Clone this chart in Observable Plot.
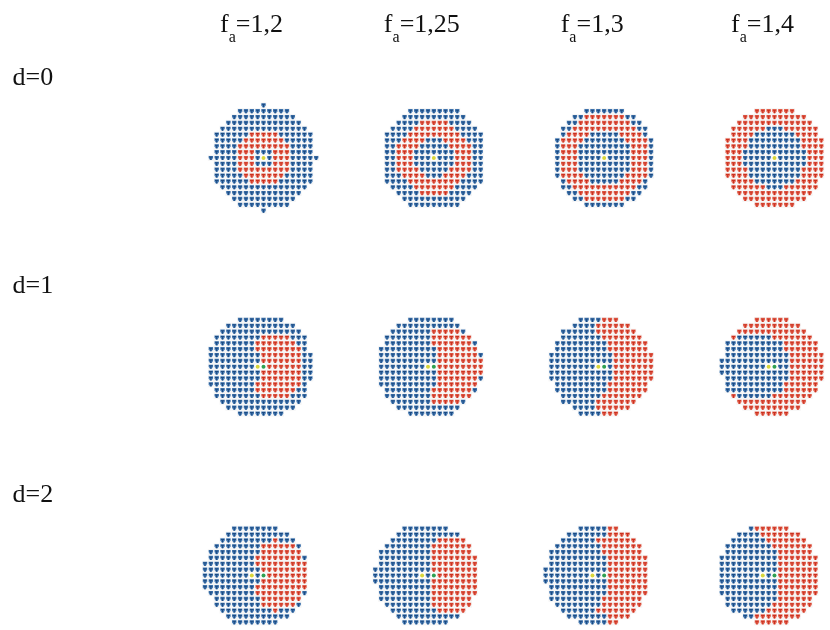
<!DOCTYPE html>
<html>
<head>
<meta charset="utf-8">
<script src="https://cdn.jsdelivr.net/npm/d3@7"></script>
<script src="https://cdn.jsdelivr.net/npm/@observablehq/plot@0.6"></script>
<style>
html,body{margin:0;padding:0;background:#fff}
svg{display:block}
</style>
</head>
<body>
<div id="chart"></div>
<script>
const faLabels = ["1,2", "1,25", "1,3", "1,4"];
const dLabels = ["d=0", "d=1", "d=2"];
const offsets = [0, 1, 2]; // the source (yellow) sits d cells left of the array centre (green)

// every row: [first cell, last cell, red from, red to, red from, red to], top to bottom
const d0_f12 = [[0,0],[-4,4],[-5,5],[-6,6],[-7,7],[-8,8,-2,2],[-8,8,-3,3],[-8,8,-4,4],[-8,8,-4,-2,2,4],[-9,9,-4,-2,2,4],[-8,8,-4,-2,2,4],[-8,8,-4,4],[-8,8,-3,3],[-8,8,-2,2],[-7,7],[-6,6],[-5,5],[-4,4],[0,0]];
const d0_f125 = [[-4,4],[-5,5],[-6,6,-2,2],[-7,7,-3,3],[-8,8,-4,4],[-8,8,-5,-2,2,5],[-8,8,-6,-3,3,6],[-8,8,-6,-4,4,6],[-8,8,-6,-4,4,6],[-8,8,-6,-4,4,6],[-8,8,-6,-3,3,6],[-8,8,-5,-2,2,5],[-8,8,-4,4],[-7,7,-3,3],[-6,6,-2,2],[-5,5],[-4,4]];
const d0_f13 = [[-3,3],[-5,5,-3,3],[-6,6,-4,4],[-7,7,-5,5],[-7,7,-6,-3,3,6],[-8,8,-7,-4,4,7],[-8,8,-7,-5,5,7],[-8,8,-7,-5,5,7],[-8,8,-7,-5,5,7],[-8,8,-7,-5,5,7],[-8,8,-7,-5,5,7],[-8,8,-7,-4,4,7],[-7,7,-6,-3,3,6],[-7,7,-5,5],[-6,6,-4,4],[-5,5,-3,3],[-3,3]];
const d0_f14 = [[-3,3,-3,3],[-5,5,-5,5],[-6,6,-6,6],[-7,7,-7,-2,2,7],[-7,7,-7,-4,4,7],[-8,8,-8,-5,5,8],[-8,8,-8,-5,5,8],[-8,8,-8,-6,6,8],[-8,8,-8,-6,6,8],[-8,8,-8,-6,6,8],[-8,8,-8,-5,5,8],[-8,8,-8,-5,5,8],[-7,7,-7,-4,4,7],[-7,7,-7,-2,2,7],[-6,6,-6,6],[-5,5,-5,5],[-3,3,-3,3]];

const d1_f12 = [[-3,4],[-5,6],[-6,7],[-7,8,1,5],[-7,8,0,6],[-8,8,0,7],[-8,9,1,7],[-8,9,1,7],[-8,9,2,7],[-8,9,1,7],[-8,9,1,7],[-8,8,0,7],[-7,8,0,6],[-7,8,1,5],[-6,7],[-5,6],[-3,4]];
const d1_f125 = [[-3,4],[-5,5],[-6,6,1,5],[-7,7,1,7],[-7,8,1,7],[-8,8,2,8],[-8,9,2,8],[-8,9,2,9],[-8,9,2,9],[-8,9,2,9],[-8,9,2,8],[-8,8,2,8],[-7,8,1,7],[-7,7,1,7],[-6,6,1,5],[-5,5],[-3,4]];
const d1_f13 = [[-3,3,1,3],[-4,5,0,5],[-6,6,0,6],[-6,7,1,7],[-7,8,2,8],[-7,8,2,8],[-8,9,3,9],[-8,9,3,9],[-8,9,3,9],[-8,9,3,9],[-8,9,3,9],[-7,8,2,8],[-7,8,2,8],[-6,7,1,7],[-6,6,0,6],[-4,5,0,5],[-3,3,1,3]];
const d1_f14 = [[-2,3,-2,3],[-4,5,-4,5],[-5,6,-5,6],[-6,7,-6,-6,1,7],[-7,8,3,8],[-7,8,3,8],[-7,9,4,9],[-8,9,4,9],[-8,9,4,9],[-8,9,4,9],[-7,9,4,9],[-7,8,3,8],[-7,8,3,8],[-6,7,-6,-6,1,7],[-5,6,-5,6],[-4,5,-4,5],[-2,3,-2,3]];

const d2_f12 = [[-3,4],[-4,6],[-5,7,4,4],[-6,8,2,7],[-7,8,2,8],[-7,9,1,8],[-8,9,1,9],[-8,9,2,9],[-8,9,3,9],[-8,9,2,9],[-8,9,1,9],[-7,9,1,8],[-6,8,2,8],[-6,8,2,7],[-5,7,4,4],[-4,6],[-3,4]];
const d2_f125 = [[-3,4],[-4,6],[-5,7,3,7],[-6,8,2,8],[-7,8,2,8],[-7,9,2,9],[-7,9,2,9],[-8,9,2,9],[-8,9,3,9],[-8,9,2,9],[-7,9,2,9],[-7,9,2,9],[-7,8,2,8],[-6,8,2,8],[-5,7,3,7],[-4,6],[-3,4]];
const d2_f13 = [[-2,4,3,4],[-4,6,3,6],[-5,7,1,7],[-6,8,2,8],[-7,8,2,8],[-7,9,3,9],[-7,9,3,9],[-8,9,3,9],[-8,9,3,9],[-8,9,3,9],[-7,9,3,9],[-7,9,3,9],[-7,8,2,8],[-6,8,2,8],[-5,7,1,7],[-4,6,3,6],[-2,4,3,4]];
const d2_f14 = [[-2,4,-1,4],[-4,6,0,6],[-5,7,1,7],[-6,8,2,8],[-6,8,3,8],[-7,9,3,9],[-7,9,3,9],[-7,9,3,9],[-7,9,3,9],[-7,9,3,9],[-7,9,3,9],[-7,9,3,9],[-6,8,3,8],[-6,8,2,8],[-5,7,1,7],[-3,6,-1,6],[-1,4,-1,4]];

const panels = [
  [d0_f12, d0_f125, d0_f13, d0_f14],
  [d1_f12, d1_f125, d1_f13, d1_f14],
  [d2_f12, d2_f125, d2_f13, d2_f14]
];

const cells = [];
const sources = [];
const centres = [];
panels.forEach((rowPanels, di) => {
  const shift = offsets[di];
  rowPanels.forEach((rows, fi) => {
    const fa = faLabels[fi], d = dLabels[di];
    sources.push({col: -shift, row: 0, fa, d});
    if (shift) centres.push({col: 0, row: 0, fa, d});
    rows.forEach((r, i) => {
      const row = i - (rows.length - 1) / 2;
      for (let c = r[0]; c <= r[1]; c++) {
        if (row === 0 && (c === 0 || c === shift)) continue;
        let red = false;
        for (let k = 2; k < r.length; k += 2) if (c >= r[k] && c <= r[k + 1]) red = true;
        cells.push({col: c - shift, row, fa, d, red});
      }
    });
  });
});

const poly = (ctx, pts) => {
  pts.forEach(([x, y], i) => i ? ctx.lineTo(x, y) : ctx.moveTo(x, y));
  ctx.closePath();
};
const bodySymbol = {draw(ctx) { poly(ctx, [[-2.2,-2.1],[2.2,-2.1],[2.2,0],[0.9,2.1],[-0.9,2.1],[-2.2,0]]); }};
const coreSymbol = {draw(ctx) { poly(ctx, [[-1.7,-1.5],[1.7,-1.5],[1.7,-0.5],[0.55,-0.5],[0.55,2],[-0.55,2],[-0.55,-0.5],[-1.7,-0.5]]); }};
const haloSymbol = {draw(ctx) { poly(ctx, [[-3,-3],[3,-3],[3,3],[-3,3]]); }};

const serif = "'Liberation Serif','Times New Roman',serif";

function headerRender(index, scales, values, dimensions, context, next) {
  const g = next(index, scales, values, dimensions, context);
  d3.select(g).selectAll("text").each(function() {
    const t = d3.select(this);
    const value = "=" + t.text();
    t.text(null);
    t.append("tspan").text("f");
    t.append("tspan").attr("dy", 10).attr("font-size", 16).text("a");
    t.append("tspan").attr("dy", -10).text(value);
  });
  return g;
}

const chart = Plot.plot({
  width: 830,
  height: 630,
  marginTop: 102.5,
  marginBottom: 0,
  marginLeft: 208,
  marginRight: 1,
  style: {background: "#fff", filter: "blur(0.3px)"},
  fx: {domain: faLabels, paddingInner: 0.354, paddingOuter: 0, round: false, axis: null},
  fy: {domain: dLabels, paddingInner: 0.473, paddingOuter: 0, round: false, axis: null},
  x: {domain: [-9.4, 9.4], axis: null},
  y: {domain: [9.4, -9.4], axis: null},
  marks: [
    Plot.dot(cells, {x: "col", y: "row", fx: "fa", fy: "d", symbol: haloSymbol, fill: "#f6f6f6"}),
    Plot.dot(cells, {x: "col", y: "row", fx: "fa", fy: "d", symbol: bodySymbol, fill: d => d.red ? "#e8705e" : "#4a7fb8"}),
    Plot.dot(cells, {x: "col", y: "row", fx: "fa", fy: "d", symbol: coreSymbol, fill: d => d.red ? "#c9301f" : "#1c4a80"}),
    Plot.dot(centres, {x: "col", y: "row", fx: "fa", fy: "d", r: 2, fill: "#2fa052"}),
    Plot.dot(sources, {x: "col", y: "row", fx: "fa", fy: "d", r: 2, fill: "#d9d63a"}),
    Plot.text(faLabels, {
      text: d => d, fx: d => d, fy: () => dLabels[0],
      frameAnchor: "top", lineAnchor: "bottom", dx: -12, dy: -71.5,
      fontFamily: serif, fontSize: 26, fill: "#111", render: headerRender
    }),
    Plot.text(dLabels, {
      text: d => d, fy: d => d, fx: () => faLabels[0],
      frameAnchor: "top-left", textAnchor: "start", lineAnchor: "bottom", dx: -196, dy: -18.5,
      fontFamily: serif, fontSize: 26, fill: "#111"
    })
  ]
});
document.getElementById("chart").appendChild(chart);
</script>
</body>
</html>
